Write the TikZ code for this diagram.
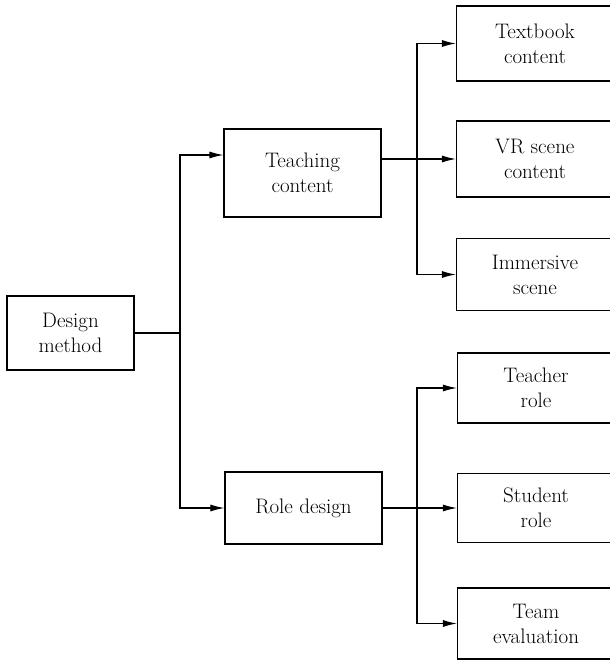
\documentclass[tikz,border=0pt]{standalone}
\usetikzlibrary{arrows.meta}
\begin{document}
\begin{tikzpicture}[x=1pt,y=-1pt,>={Latex[length=14pt,width=7pt]},
  blk/.style={draw, line width=1.2pt, rectangle, align=center, inner sep=0pt,
    font=\fontsize{21}{25}\selectfont}]
\useasboundingbox (0,0) rectangle (610,661);

\node(Design)[blk, minimum width=127pt, minimum height=74pt] at (70.5,333) {Design\\method};

\node(Teach)[blk, minimum width=157pt, minimum height=88pt] at (302.5,173) {Teaching\\content};
\node(Role)[blk, minimum width=157pt, minimum height=72pt] at (303.5,508) {Role design};

\node(Text)[blk, minimum width=157pt, minimum height=75pt] at (535,43.5) {Textbook\\content};
\node(VR)[blk, minimum width=157pt, minimum height=76pt] at (535,159) {VR scene\\content};
\node(Imm)[blk, minimum width=157pt, minimum height=72pt] at (535,274.5) {Immersive\\scene};
\node(Teacher)[blk, minimum width=157pt, minimum height=70pt] at (536,388) {Teacher\\role};
\node(Student)[blk, minimum width=157pt, minimum height=69pt] at (536,508) {Student\\role};
\node(Team)[blk, minimum width=157pt, minimum height=71pt] at (536,623.5) {Team\\evaluation};

\coordinate(J1) at (180,333);
\coordinate(J2) at (417,159);
\coordinate(J3) at (417,508);

\draw[line width=1.1pt] (Design.east) -- (J1);
\draw[line width=1.1pt,->] (J1) |- ([yshift=18pt]Teach.west);
\draw[line width=1.1pt,->] (J1) |- (Role.west);

\draw[line width=1.1pt,->] ([yshift=14pt]Teach.east) -- (VR.west);
\draw[line width=1.1pt,->] (J2) |- (Text.west);
\draw[line width=1.1pt,->] (J2) |- (Imm.west);

\draw[line width=1.1pt,->] (Role.east) -- (Student.west);
\draw[line width=1.1pt,->] (J3) |- (Teacher.west);
\draw[line width=1.1pt,->] (J3) |- (Team.west);
\end{tikzpicture}
\end{document}
